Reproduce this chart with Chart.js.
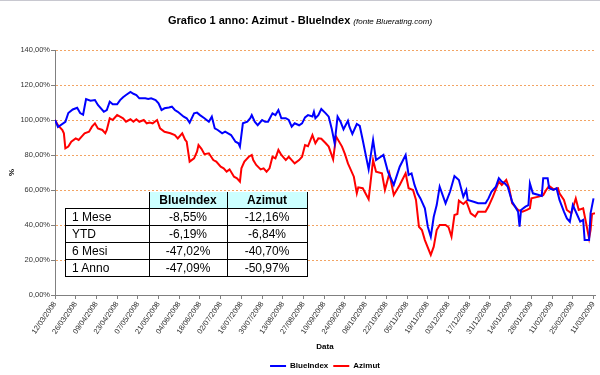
<!DOCTYPE html>
<html>
<head>
<meta charset="utf-8">
<script src="https://cdn.jsdelivr.net/npm/chart.js@4.4.1/dist/chart.umd.min.js"></script>
<style>
    html, body { margin: 0; padding: 0; background: #fff; }
    #wrap { position: relative; width: 600px; height: 375px; overflow: hidden; font-family: "Liberation Sans", Arial, sans-serif; }
    #topline { position: absolute; left: 0; top: 0; width: 600px; height: 1px; background: #c8c8d0; }
    #title { position: absolute; top: 14px; left: 0; width: 600px; text-align: center; font-size: 11px; font-weight: bold; color: #000; }
    #title i { font-weight: normal; font-size: 8px; }
    #perf { position: absolute; left: 65px; top: 192px; border-collapse: collapse; font-size: 12px; color: #000; }
    #perf td, #perf th { height: 16px; padding: 0; line-height: 16px; }
    #perf th { background: #ccffff; font-weight: bold; text-align: center; border: 1px solid #000; border-top: none; }
    #perf th.blank { background: transparent; border: none; border-bottom: 1px solid #000; }
    #perf td { border: 1px solid #000; text-align: center; background: #fff; }
    #perf td.lbl { text-align: left; padding-left: 6px; }
</style>
</head>
<body>
<div id="wrap">
    <div id="topline"></div>
    <canvas id="chart" width="600" height="375"></canvas>
    <div id="title">Grafico 1 anno: Azimut - BlueIndex <i>(fonte Bluerating.com)</i></div>
    <table id="perf"></table>
</div>
<script>
// ---------- data ----------
const seriesNames = ["BlueIndex", "Azimut"];

// x tick labels, one every 14 days starting 12/03/2008
const tickLabels = [
    "12/03/2008", "26/03/2008", "09/04/2008", "23/04/2008", "07/05/2008", "21/05/2008",
    "04/06/2008", "18/06/2008", "02/07/2008", "16/07/2008", "30/07/2008", "13/08/2008",
    "27/08/2008", "10/09/2008", "24/09/2008", "08/10/2008", "22/10/2008", "05/11/2008",
    "19/11/2008", "03/12/2008", "17/12/2008", "31/12/2008", "14/01/2009", "28/01/2009",
    "11/02/2009", "25/02/2009", "11/03/2009"
];
const yTickLabels = ["0,00%", "20,00%", "40,00%", "60,00%", "80,00%", "100,00%", "120,00%", "140,00%"];

// days since 12/03/2008 and values (%)
const blueDays = [
    0, 2, 7, 9, 12, 15, 17, 19, 20, 21, 24, 27, 29, 33, 35, 37, 39, 42, 44, 46, 48, 51, 53, 55, 57,
    61, 63, 65, 68, 70, 72, 74, 77, 79, 81, 83, 87, 89, 91, 94, 96, 98, 101, 104, 106, 108, 110, 113,
    115, 117, 119, 122, 124, 125, 127, 130, 132, 133, 135, 137, 140, 142, 144, 147, 149, 151, 153, 156,
    158, 160, 162, 165, 167, 169, 171, 174, 175, 176, 178, 180, 183, 185, 187, 189, 191, 193, 195, 198,
    199, 201, 204, 206, 208, 212, 215, 217, 222, 225, 229, 233, 237, 239, 241, 243, 245, 247, 250, 252,
    254, 256, 258, 260, 264, 267, 270, 273, 276, 278, 279, 283, 286, 291, 293, 295, 298, 300, 302, 304,
    306, 309, 311, 313, 314, 315, 318, 320, 321, 323, 327, 329, 330, 333, 334, 337, 339, 341, 344, 346,
    348, 350, 353, 355, 357, 358, 361, 362, 364
];
const blueValues = [
    100, 96, 99, 104, 106, 107, 104, 103, 107.6, 112, 111, 111.4, 108.6, 104.7, 105.7, 110.5, 109, 109, 111.4, 113, 114.3, 116, 115, 114.3, 112.4,
    112.4, 112, 112.4, 111.4, 109.5, 105.7, 106.7, 107.2, 107.6, 105.7, 104.7, 101.9, 101, 98.5, 103.8, 104.2, 102.8, 101, 99, 101.9, 95.2, 94.3, 92.4,
    93.3, 92.4, 91.4, 87.6, 86.7, 84.8, 98.1, 99, 101, 102.8, 99, 97, 100, 99, 99, 103.8, 102.8, 105.7, 101, 101,
    100, 96.2, 98.1, 97, 98.1, 101.5, 102.8, 102, 104.7, 101, 102.8, 106.3, 103.8, 101.9, 95.2, 86.7, 101.9, 99, 94.7, 99.6,
    96.2, 92, 97.7, 96.6, 88.6, 71.8, 88.6, 77.1, 80, 70.5, 62.9, 73.3, 80, 68.6, 69.5, 62.9, 58.1, 55.2, 49.5, 39,
    33.3, 44.7, 51.4, 61.9, 52.4, 59, 68, 65.7, 56.2, 60, 54.3, 53.3, 52.4, 52.4, 55.2, 59, 61.9, 66.7, 64.8, 63.8,
    61.9, 53.3, 50.5, 47.6, 39, 48.6, 50.5, 51.4, 63.8, 58.1, 57.1, 56.6, 66.7, 66.7, 61, 60, 61, 54.3, 47.6, 43.8,
    41.9, 51.4, 45.7, 41.9, 42.9, 31.4, 31.4, 46.7, 55.2
];

const redDays = [
    0, 2, 5, 6, 7, 9, 11, 14, 16, 18, 20, 23, 25, 27, 29, 32, 34, 35, 37, 39, 42, 44, 46, 48, 51, 53,
    55, 57, 60, 62, 64, 66, 69, 71, 74, 78, 81, 83, 86, 88, 89, 91, 94, 96, 97, 99, 101, 104, 107, 109,
    112, 114, 116, 118, 121, 123, 125, 126, 128, 131, 133, 134, 136, 139, 141, 143, 145, 147, 149, 151,
    153, 156, 158, 160, 162, 165, 167, 169, 171, 174, 176, 178, 180, 183, 185, 188, 190, 194, 196, 198,
    202, 204, 205, 208, 212, 215, 217, 221, 223, 226, 229, 233, 237, 239, 242, 244, 246, 248, 250, 254,
    256, 258, 260, 264, 266, 268, 270, 272, 273, 276, 278, 281, 284, 286, 291, 293, 296, 300, 302, 305,
    307, 309, 313, 316, 319, 321, 322, 327, 330, 332, 334, 337, 340, 341, 344, 346, 349, 352, 354, 357,
    359, 361, 362, 363, 365
];
const redValues = [
    100, 97, 94.3, 92.4, 83.8, 84.8, 87.6, 89.5, 88.6, 90.5, 92.4, 93.3, 96.2, 98.1, 95.2, 94.3, 92.4, 94.3, 101, 100, 102.8, 101.9, 101, 99, 100.4, 99,
    100.4, 99, 100, 98.1, 98.5, 98.1, 100, 95.2, 93.3, 92.4, 91.4, 89.5, 92.4, 88.6, 87.6, 76.2, 78.1, 81.9, 85.7, 83.5, 80.5, 81, 77.1, 76.2,
    73.3, 72.4, 70.5, 71.8, 67.6, 66.7, 64.8, 72.4, 76.2, 79, 80, 77.1, 74.3, 71.8, 72.4, 70.5, 72.4, 79, 78.1, 82.9,
    80, 77.1, 79, 77.1, 75.2, 77.1, 79, 85.7, 85, 91.4, 86.7, 89.5, 89.3, 86.7, 84.8, 77.5, 90.6, 84.8, 80.5, 75.2,
    67.6, 58.1, 61.5, 61, 54.7, 77.1, 70.5, 69.5, 60, 69.5, 57.1, 62.9, 69.5, 61, 60, 54.3, 39, 37.1, 31.4, 22.9,
    27.6, 37.1, 40, 40, 38.7, 33.3, 45.7, 46.3, 53.9, 52, 53.6, 46.7, 44.8, 47.6, 47.6, 50.5, 56.2, 64.8, 62.9, 65.7,
    61, 52.4, 48.6, 47.6, 48.6, 49.5, 55.2, 56.2, 57.1, 60, 62.3, 60.4, 61, 58.1, 54.3, 48.6, 46.7, 55.2, 48.6, 49.5,
    41, 32.4, 37.1, 46.3, 46.7
];

// performance table
const tableRows = ["1 Mese", "YTD", "6 Mesi", "1 Anno"];
const tableBlue = ["-8,55%", "-6,19%", "-47,02%", "-47,09%"];
const tableAzimut = ["-12,16%", "-6,84%", "-40,70%", "-50,97%"];

// ---------- table ----------
const perf = document.getElementById("perf");
let html = '<tr><th class="blank" style="width:83px"></th><th style="width:77px">' + seriesNames[0] +
    '</th><th style="width:79px">' + seriesNames[1] + '</th></tr>';
tableRows.forEach((name, i) => {
    html += '<tr><td class="lbl">' + name + '</td><td>' + tableBlue[i] + '</td><td>' + tableAzimut[i] + '</td></tr>';
});
perf.innerHTML = html;

// ---------- chart ----------
const font = "'Liberation Sans', Arial, sans-serif";
Chart.defaults.font.family = font;

const toPoints = (days, vals) => days.map((d, i) => ({ x: d, y: vals[i] }));

new Chart(document.getElementById("chart"), {
    type: "line",
    data: {
        datasets: [{
            label: seriesNames[0],
            data: toPoints(blueDays, blueValues),
            borderColor: "#0000ff",
            backgroundColor: "#0000ff",
            borderWidth: 2,
            pointRadius: 0,
            tension: 0
        }, {
            label: seriesNames[1],
            data: toPoints(redDays, redValues),
            borderColor: "#ff0000",
            backgroundColor: "#ff0000",
            borderWidth: 2,
            pointRadius: 0,
            tension: 0
        }]
    },
    options: {
        responsive: false,
        animation: false,
        layout: { padding: { top: 50, right: 5, left: 0, bottom: -5 } },
        plugins: {
            tooltip: { enabled: false },
            legend: {
                position: "bottom",
                fullSize: false,
                labels: {
                    usePointStyle: true,
                    pointStyle: "line",
                    pointStyleWidth: 16,
                    padding: 5,
                    color: "#000",
                    font: { size: 8, weight: "bold" }
                }
            }
        },
        scales: {
            x: {
                type: "linear",
                min: 0,
                max: 365,
                grid: { drawOnChartArea: false, drawTicks: true, tickLength: 4, tickColor: "#808080" },
                border: { color: "#808080", width: 1 },
                ticks: {
                    stepSize: 14,
                    includeBounds: false,
                    autoSkip: false,
                    minRotation: 55,
                    maxRotation: 55,
                    padding: 1,
                    color: "#333",
                    font: { size: 7.5 },
                    callback: v => tickLabels[v / 14]
                },
                title: {
                    display: true,
                    text: "Data",
                    color: "#000",
                    font: { size: 8, weight: "bold" },
                    padding: { top: 0, bottom: 5 }
                },
                afterFit: s => { s.height = 62; s.paddingLeft = 0; s.paddingRight = 0; }
            },
            y: {
                min: 0,
                max: 140,
                grid: {
                    color: c => c.tick && c.tick.value === 0 ? "rgba(0,0,0,0)" : "#f2a464",
                    tickColor: "#808080",
                    tickLength: 4
                },
                border: { color: "#808080", width: 1, dash: [2, 2] },
                ticks: {
                    stepSize: 20,
                    padding: 1,
                    color: "#333",
                    font: { size: 7.5 },
                    callback: v => yTickLabels[v / 20]
                },
                title: {
                    display: true,
                    text: "%",
                    color: "#000",
                    font: { size: 8, weight: "bold" },
                    padding: { top: 7, bottom: 0 }
                },
                afterFit: s => { s.width = 55; }
            }
        }
    }
});
</script>
</body>
</html>
